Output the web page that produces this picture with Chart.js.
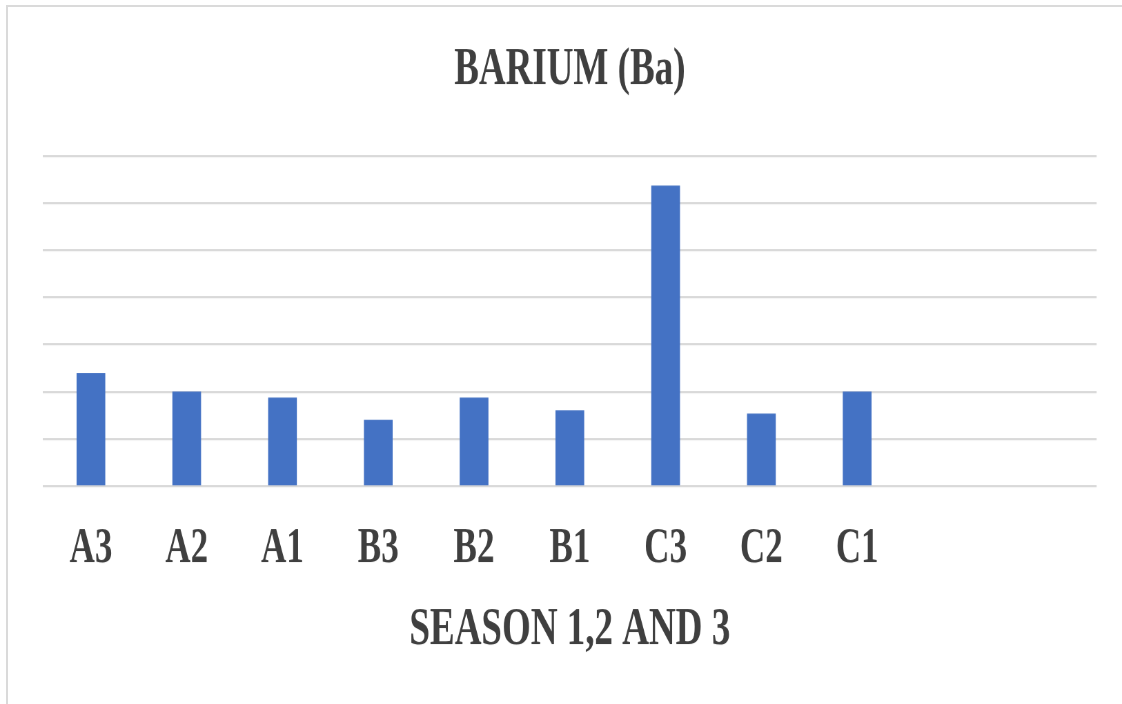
<!DOCTYPE html>
<html>
<head>
<meta charset="utf-8">
<script src="https://cdn.jsdelivr.net/npm/chart.js@4/dist/chart.umd.min.js"></script>
<style>
  html, body { margin: 0; background: #fff; overflow: hidden; scrollbar-width: none; }
  ::-webkit-scrollbar { display: none; }
  #page { position: relative; width: 1122px; height: 704px; overflow: hidden; }
  #frame { position: absolute; left: 6px; top: 5px; width: 1114px; height: 697px; border-top: 2px solid #dadada; border-left: 2px solid #dadada; }
  /* reference text is tall and narrow, so draw the chart flatter and stretch it vertically */
  #wrap { position: absolute; left: 0; top: 0; width: 1122px; height: 486px; transform: scaleY(1.4486); transform-origin: 0 0; }
</style>
</head>
<body>
<div id="page">
  <div id="frame"></div>
  <div id="wrap"><canvas id="bariumChart"></canvas></div>
</div>
<script>
const categories = ['A3', 'A2', 'A1', 'B3', 'B2', 'B1', 'C3', 'C2', 'C1', '', ''];
const bariumValues = [2.40, 2.01, 1.88, 1.41, 1.88, 1.61, 6.37, 1.54, 2.01, null, null];
const yTicks = [0, 1, 2, 3, 4, 5, 6, 7];

const textColor = '#3f3f3f';
const serif = "'Liberation Serif', 'Times New Roman', serif";

new Chart(document.getElementById('bariumChart').getContext('2d'), {
    type: 'bar',
    data: {
        labels: categories,
        datasets: [{ label: 'Ba', data: bariumValues, backgroundColor: '#4472c4', borderWidth: 0, barPercentage: 0.3, categoryPercentage: 1 }]
    },
    options: {
        responsive: true,
        maintainAspectRatio: false,
        animation: false,
        devicePixelRatio: 1.45,
        layout: { padding: { left: 43, right: 26, top: 0, bottom: 0 } },
        plugins: {
            legend: { display: false },
            tooltip: { enabled: false },
            title: {
                display: true,
                text: 'BARIUM (Ba)',
                color: textColor,
                font: { family: serif, size: 37, weight: 'bold' },
                padding: { top: 26, bottom: 37 }
            }
        },
        scales: {
            x: {
                grid: { display: false, drawTicks: false },
                border: { display: false },
                ticks: { color: textColor, font: { family: serif, size: 35, weight: 'bold', lineHeight: 1 }, padding: 25.5, maxRotation: 0, autoSkip: false },
                title: { display: true, text: 'SEASON 1,2 AND 3', color: textColor, font: { family: serif, size: 37, weight: 'bold', lineHeight: 1 }, padding: { top: -5, bottom: 32.6 } }
            },
            y: {
                min: yTicks[0],
                max: yTicks[yTicks.length - 1],
                afterBuildTicks: (axis) => { axis.ticks = yTicks.map(v => ({ value: v })); },
                grid: { color: '#d9d9d9', lineWidth: 1.6, drawTicks: false },
                border: { display: false },
                ticks: { display: false }
            }
        }
    }
});
</script>
</body>
</html>
